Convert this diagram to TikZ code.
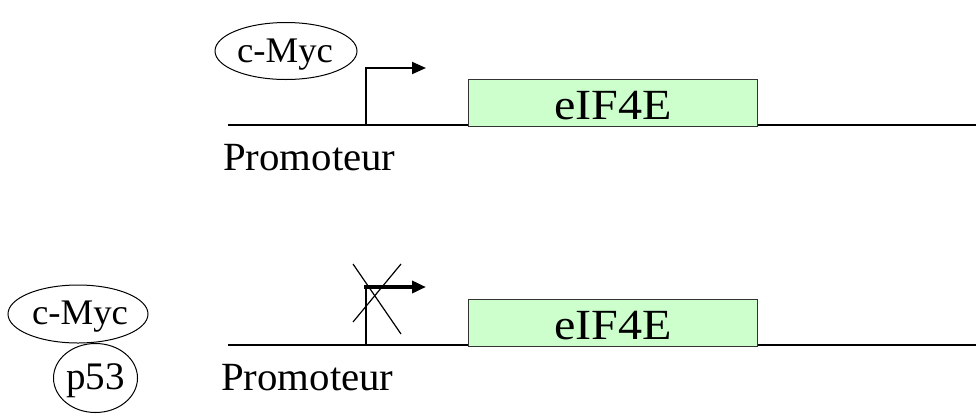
\documentclass[tikz,border=0pt]{standalone}
\usepackage{fontspec}
\setmainfont{Liberation Serif}
\usetikzlibrary{arrows.meta,shapes.geometric}
\definecolor{genefill}{HTML}{CCFFCC}
\definecolor{geneedge}{HTML}{333333}
\tikzset{
  dna/.style={line width=2pt},
  tss/.style={line width=2pt},
  tssarrow/.style={line width=2pt,-{Triangle[length=14pt,width=12pt]}},
  genebox/.style={draw=geneedge,line width=1.2pt,fill=genefill},
  protein/.style={draw,ellipse,line width=1pt,inner sep=0pt},
  crossout/.style={line width=1.2pt},
  genetxt/.style={font=\fontsize{43}{48}\selectfont,inner sep=0pt,anchor=base},
  promtxt/.style={font=\fontsize{40}{46}\selectfont,inner sep=0pt,anchor=base west},
  prottxt/.style={font=\fontsize{36}{42}\selectfont,inner sep=0pt,anchor=base},
}
\newcommand{\stretchx}[2]{\scalebox{#1}[1]{#2}}
\begin{document}
\begin{tikzpicture}[x=1pt,y=-1pt]
  \useasboundingbox (0,0) rectangle (976,413);

  % ---- upper construct: active promoter ----
  \coordinate (dnaL1) at (228,125);
  \coordinate (dnaR1) at (976,125);
  \draw[dna] (dnaL1) -- (dnaR1);
  \coordinate (tssB1) at (366,125);
  \coordinate (tssT1) at (366,68);
  \coordinate (tssE1) at (426,68);
  \draw[tss] (tssB1) -- (tssT1);
  \draw[tssarrow] ([xshift=-1pt]tssT1) -- (tssE1);
  \node[genebox,minimum width=289pt,minimum height=47pt,anchor=north west] (gene1) at (468,79) {};
  \node[genetxt] (gname1) at (613,119) {\stretchx{1.12}{eIF4E}};
  \node[protein,minimum width=142pt,minimum height=57pt] (myc1) at (286,51) {};
  \node[prottxt] (myctxt1) at (285,62) {\stretchx{1.02}{c-Myc}};
  \node[promtxt] (prom1) at (223,170) {\stretchx{1.02}{Promoteur}};

  % ---- lower construct: repressed promoter ----
  \coordinate (dnaL2) at (228,345);
  \coordinate (dnaR2) at (976,345);
  \draw[dna] (dnaL2) -- (dnaR2);
  \coordinate (tssB2) at (366,345);
  \coordinate (tssT2) at (366,287);
  \coordinate (tssE2) at (426,287);
  \draw[tss] (tssB2) -- (tssT2);
  \draw[tssarrow,line width=4pt] ([xshift=-2pt]tssT2) -- (tssE2);
  \coordinate (xa) at (353,264);
  \coordinate (xb) at (401,334);
  \coordinate (xc) at (401,264);
  \coordinate (xd) at (353,322);
  \draw[crossout] (xa) -- (xb);
  \draw[crossout] (xc) -- (xd);
  \node[genebox,minimum width=289pt,minimum height=47pt,anchor=north west] (gene2) at (468,299) {};
  \node[genetxt] (gname2) at (613,339) {\stretchx{1.12}{eIF4E}};
  \node[protein,minimum width=140pt,minimum height=58pt] (myc2) at (78,314) {};
  \node[prottxt] (myctxt2) at (80,324) {\stretchx{1.02}{c-Myc}};
  \node[protein,minimum width=84pt,minimum height=69pt] (p53) at (95.5,378) {};
  \node[prottxt,font=\fontsize{39}{44}\selectfont] (p53txt) at (95.5,389) {p53};
  \node[promtxt] (prom2) at (221,390) {\stretchx{1.02}{Promoteur}};
\end{tikzpicture}
\end{document}
